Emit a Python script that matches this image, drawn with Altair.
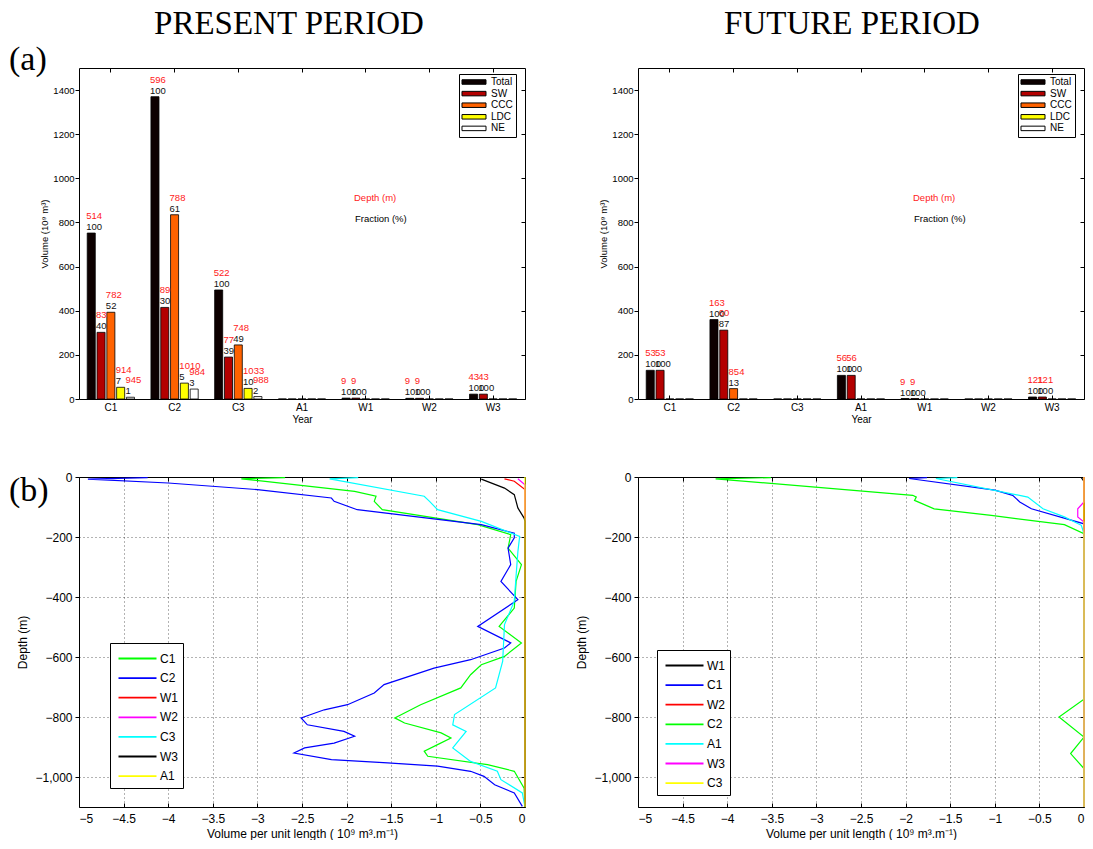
import altair as alt
import pandas as pd

FONT = "Liberation Sans"
SERIF = "Liberation Serif"

# ---------------------------------------------------------------- bar data
groups = ["C1", "C2", "C3", "A1", "W1", "W2", "W3"]
bar_series = ["Total", "SW", "CCC", "LDC", "NE"]
bar_colors = ["#0d0000", "#b30000", "#ff6200", "#ffff00", "#ffffff"]
volume_ticks = [0, 200, 400, 600, 800, 1000, 1200, 1400]

# volume (10^9 m^3) per water type, present period
present_total = [752, 1370, 494, 0, 4, 3, 22]
present_sw = [302, 415, 190, 0, 4, 3, 22]
present_ccc = [393, 835, 245, 0, 0, 0, 0]
present_ldc = [53, 72, 48, 0, 0, 0, 0]
present_ne = [8, 45, 11, 0, 0, 0, 0]
# depth (m) and fraction (%) annotations, present period
present_total_depth = ["514", "596", "522", "", "9", "9", "43"]
present_sw_depth = ["83", "89", "77", "", "9", "9", "43"]
present_ccc_depth = ["782", "788", "748", "", "", "", ""]
present_ldc_depth = ["914", "1010", "1033", "", "", "", ""]
present_ne_depth = ["945", "984", "988", "", "", "", ""]
present_total_frac = ["100", "100", "100", "", "100", "100", "100"]
present_sw_frac = ["40", "30", "39", "", "100", "100", "100"]
present_ccc_frac = ["52", "61", "49", "", "", "", ""]
present_ldc_frac = ["7", "5", "10", "", "", "", ""]
present_ne_frac = ["1", "3", "2", "", "", "", ""]

# volume (10^9 m^3) per water type, future period
future_total = [130, 360, 0, 107, 2, 0, 9]
future_sw = [130, 312, 0, 107, 2, 0, 9]
future_ccc = [0, 47, 0, 0, 0, 0, 0]
future_ldc = [0, 0, 0, 0, 0, 0, 0]
future_ne = [0, 0, 0, 0, 0, 0, 0]
future_total_depth = ["53", "163", "", "56", "9", "", "121"]
future_sw_depth = ["53", "60", "", "56", "9", "", "121"]
future_ccc_depth = ["", "854", "", "", "", "", ""]
future_ldc_depth = ["", "", "", "", "", "", ""]
future_ne_depth = ["", "", "", "", "", "", ""]
future_total_frac = ["100", "100", "", "100", "100", "", "100"]
future_sw_frac = ["100", "87", "", "100", "100", "", "100"]
future_ccc_frac = ["", "13", "", "", "", "", ""]
future_ldc_frac = ["", "", "", "", "", "", ""]
future_ne_frac = ["", "", "", "", "", "", ""]

# ---------------------------------------------------------- profile data
volume_axis_ticks = [-5, -4.5, -4, -3.5, -3, -2.5, -2, -1.5, -1, -0.5, 0]
volume_grid = [-4.5, -4, -3.5, -3, -2.5, -2, -1.5, -1, -0.5]
depth_ticks = [-1000, -800, -600, -400, -200, 0]
depth_grid = [-1000, -800, -600, -400, -200]

present_order = ["C1", "C2", "W1", "W2", "C3", "W3", "A1"]
present_colors = ["#00ff00", "#0000ff", "#ff0000", "#ff00ff", "#00ffff", "#000000", "#ffff00"]

present_c1_depth = [-2, -6, -48, -64, -81, -109, -159, -192, -237, -292, -348, -437, -498,
                    -553, -598, -626, -659, -703, -759, -803, -820, -853, -870, -892, -914,
                    -931, -959, -981, -1037, -1100]
present_c1_volume = [-2.69, -3.18, -1.91, -1.67, -1.69, -1.60, -0.53, -0.16, -0.19, -0.04,
                     -0.10, -0.12, -0.29, -0.04, -0.23, -0.49, -0.61, -0.72, -1.17, -1.46,
                     -1.35, -0.94, -0.83, -0.98, -1.13, -1.09, -0.42, -0.12, -0.01, 0]
present_c2_depth = [-2, -7, -20, -42, -70, -81, -109, -159, -187, -203, -237, -292, -348,
                    -409, -498, -553, -570, -609, -637, -692, -720, -759, -776, -803, -826,
                    -848, -864, -887, -903, -920, -942, -953, -964, -981, -998, -1026,
                    -1053, -1098]
present_c2_volume = [-4.23, -4.90, -4.00, -3.00, -2.17, -2.14, -1.88, -0.49, -0.12, -0.12,
                     -0.19, -0.16, -0.27, -0.08, -0.53, -0.16, -0.23, -0.61, -1.02, -1.58,
                     -1.69, -1.99, -2.25, -2.51, -2.44, -2.03, -1.91, -2.14, -2.47, -2.59,
                     -2.17, -1.54, -0.98, -0.61, -0.46, -0.34, -0.12, -0.03]
present_w1_depth = [-6, -14, -42, -1100]
present_w1_volume = [-0.23, -0.12, 0, 0]
present_w2_depth = [-6, -26, -1100]
present_w2_volume = [-0.08, 0, 0]
present_c3_depth = [-2, -6, -64, -81, -109, -148, -198, -250, -330, -414, -492, -614, -703,
                    -792, -826, -848, -903, -948, -981, -1009, -1053, -1100]
present_c3_volume = [-1.87, -2.19, -1.13, -1.07, -0.98, -0.49, -0.06, -0.08, -0.10, -0.12,
                     -0.23, -0.25, -0.33, -0.79, -0.81, -0.66, -0.81, -0.61, -0.31, -0.27,
                     -0.03, 0]
present_w3_depth = [-7, -37, -59, -103, -137, -148, -1100]
present_w3_volume = [-0.49, -0.23, -0.12, -0.08, -0.01, 0, 0]
present_a1_depth = [0, -1100]
present_a1_volume = [0, 0]

future_order = ["W1", "C1", "W2", "C2", "A1", "W3", "C3"]
future_colors = ["#000000", "#0000ff", "#ff0000", "#00ff00", "#00ffff", "#ff00ff", "#ffff00"]

future_w1_depth = [-2, -15, -1100]
future_w1_volume = [-0.03, 0, 0]
future_c1_depth = [-2, -5, -44, -61, -83, -106, -156, -1100]
future_c1_volume = [-1.76, -1.96, -1.00, -0.80, -0.72, -0.59, 0, 0]
future_w2_depth = [0, -1100]
future_w2_volume = [0, 0]
future_c2_depth = [-2, -6, -61, -67, -78, -106, -128, -159, -189, -741, -800, -867, -922,
                   -972, -1100]
future_c2_volume = [-3.51, -4.13, -1.92, -1.88, -1.90, -1.68, -1.04, -0.22, 0, 0, -0.28, 0,
                    -0.15, 0, 0]
future_a1_depth = [-2, -5, -67, -106, -133, -161, -189, -1100]
future_a1_volume = [-1.42, -1.66, -0.63, -0.46, -0.22, -0.03, 0, 0]
future_w3_depth = [0, -83, -106, -133, -150, -1100]
future_w3_volume = [0, 0, -0.07, -0.07, 0, 0]
future_c3_depth = [0, -1100]
future_c3_volume = [0, 0]

PANEL_W = 446
BAR_H = 331
LINE_H = 330


def bar_table(volumes, depths, fractions):
    rows = []
    for name, vol, dep, frac in zip(bar_series, volumes, depths, fractions):
        for g, v, d, f in zip(groups, vol, dep, frac):
            rows.append({"group": g, "series": name, "volume": v,
                         "depth_lbl": d, "frac_lbl": f})
    return pd.DataFrame(rows)


def profile_table(order, profiles):
    rows = []
    for name, (vol, dep) in zip(order, profiles):
        for i, (v, d) in enumerate(zip(vol, dep)):
            rows.append({"series": name, "idx": i, "volume": v, "depth": d})
    return pd.DataFrame(rows)


def note(text, x, y, size, color="black", font=FONT, align="left", baseline="alphabetic"):
    return alt.Chart(pd.DataFrame({"label": [text]})).mark_text(
        align=align, baseline=baseline, font=font, fontSize=size, color=color
    ).encode(x=alt.value(x), y=alt.value(y), text="label:N")


# one zero-height row per group: carries the mirrored (top/right) tick marks
frame_groups = pd.DataFrame({"group": groups, "volume": [0] * len(groups)})
# the two corners of the profile frame: carry grid lines and mirrored ticks
frame_corners = pd.DataFrame({"volume": [-5, 0], "depth": [-1100, 0]})


def bar_panel(df, heading, heading_x, tag=None):
    xscale = alt.Scale(domain=groups, paddingInner=0, paddingOuter=0)
    oscale = alt.Scale(domain=bar_series, paddingInner=0.18, paddingOuter=0.84)
    yscale = alt.Scale(domain=[0, 1500], nice=False)

    bars = alt.Chart(df).mark_bar(stroke="black", strokeWidth=0.8).encode(
        x=alt.X("group:N", sort=groups, scale=xscale,
                axis=alt.Axis(orient="bottom", offset=-4, tickSize=4, domain=False,
                              labelAngle=0, labelFontSize=10, labelPadding=3.5,
                              title="Year", titleFontSize=10, titlePadding=2, grid=False)),
        xOffset=alt.XOffset("series:N", sort=bar_series, scale=oscale),
        y=alt.Y("volume:Q", scale=yscale, stack=None,
                axis=alt.Axis(orient="left", values=volume_ticks, format="d", tickSize=4,
                              domain=False, labelFontSize=9.5, labelPadding=1,
                              title="Volume (10⁹ m³)", titleFontSize=9.5,
                              titlePadding=3, grid=False)),
        color=alt.Color("series:N", sort=bar_series,
                        scale=alt.Scale(domain=bar_series, range=bar_colors),
                        legend=alt.Legend(title=None, orient="none", legendX=380, legendY=6,
                                          strokeColor="black", fillColor="white", padding=3,
                                          symbolType="M-2.67,-0.5H2.67V0.5H-2.67Z",
                                          symbolSize=81, symbolOffset=7, labelOffset=12,
                                          symbolStrokeColor="black", symbolStrokeWidth=1,
                                          labelFont=FONT, labelFontSize=10, rowPadding=1.6)),
    )
    mirror = alt.Chart(frame_groups).mark_bar(opacity=0).encode(
        x=alt.X("group:N", sort=groups, scale=xscale,
                axis=alt.Axis(orient="top", offset=-4, tickSize=4, labels=False,
                              domain=False, title=None, grid=False)),
        y=alt.Y("volume:Q", scale=yscale, stack=None,
                axis=alt.Axis(orient="right", offset=-4, tickSize=4, labels=False,
                              values=volume_ticks, domain=False, title=None, grid=False)),
    )
    enc = dict(
        x=alt.X("group:N", sort=groups, scale=xscale, axis=None),
        xOffset=alt.XOffset("series:N", sort=bar_series, scale=oscale),
        y=alt.Y("volume:Q", scale=yscale, axis=None),
    )
    depth_lbl = alt.Chart(df).transform_filter("datum.depth_lbl != ''").mark_text(
        align="left", baseline="alphabetic", dx=-5, dy=-14, color="#ff1a1a",
        font=FONT, fontSize=9.5).encode(text="depth_lbl:N", **enc)
    frac_lbl = alt.Chart(df).transform_filter("datum.frac_lbl != ''").mark_text(
        align="left", baseline="alphabetic", dx=-5, dy=-3, color="#111111",
        font=FONT, fontSize=9.5).encode(text="frac_lbl:N", **enc)

    layers = [bars, mirror, depth_lbl, frac_lbl,
              note("Depth (m)", 275, 133, 9.5, color="#ff1a1a"),
              note("Fraction (%)", 276, 154, 9.5),
              note(heading, heading_x, -34, 33, font=SERIF, align="center")]
    if tag:
        layers.append(note(tag, -70, 2, 34, font=SERIF))
    return alt.layer(*layers).resolve_axis(x="independent", y="independent").properties(
        width=PANEL_W, height=BAR_H)


def line_panel(df, order, colors, legend_x, legend_y, tag=None):
    xscale = alt.Scale(domain=[-5, 0], nice=False, zero=False)
    yscale = alt.Scale(domain=[-1100, 0], nice=False, zero=False)

    grid = alt.Chart(frame_corners).mark_point(opacity=0).encode(
        x=alt.X("volume:Q", scale=xscale,
                axis=alt.Axis(orient="bottom", values=volume_grid, grid=True, ticks=False,
                              labels=False, domain=False, title=None, gridDash=[1, 3],
                              gridColor="#000000", gridOpacity=0.6, gridWidth=1)),
        y=alt.Y("depth:Q", scale=yscale,
                axis=alt.Axis(orient="left", values=depth_grid, grid=True, ticks=False,
                              labels=False, domain=False, title=None, gridDash=[1, 3],
                              gridColor="#000000", gridOpacity=0.6, gridWidth=1)),
    )
    lines = alt.Chart(df).mark_line(strokeWidth=1.2).encode(
        x=alt.X("volume:Q", scale=xscale,
                axis=alt.Axis(orient="bottom", offset=-4, tickSize=4, domain=False,
                              values=volume_axis_ticks, format="~g", grid=False,
                              labelFontSize=12, labelPadding=6,
                              title="Volume per unit length ( 10⁹ m³.m⁻¹)",
                              titleFontSize=12, titlePadding=4)),
        y=alt.Y("depth:Q", scale=yscale,
                axis=alt.Axis(orient="left", values=depth_ticks, tickSize=4, domain=False,
                              grid=False, labelFontSize=12, labelPadding=3,
                              title="Depth (m)", titleFontSize=12, titlePadding=5)),
        color=alt.Color("series:N", sort=order,
                        scale=alt.Scale(domain=order, range=colors),
                        legend=alt.Legend(title=None, orient="none", legendX=legend_x,
                                          legendY=legend_y, strokeColor="black",
                                          fillColor="white", padding=5,
                                          symbolType="M-2,0H2", symbolSize=361,
                                          symbolStrokeWidth=1.8, symbolOffset=12,
                                          labelOffset=12, labelFont=FONT,
                                          labelFontSize=12, rowPadding=2.6)),
        order=alt.Order("idx:Q"),
    )
    mirror = alt.Chart(frame_corners).mark_point(opacity=0).encode(
        x=alt.X("volume:Q", scale=xscale,
                axis=alt.Axis(orient="top", offset=-4, tickSize=4, labels=False,
                              values=volume_axis_ticks, domain=False, title=None,
                              grid=False)),
        y=alt.Y("depth:Q", scale=yscale,
                axis=alt.Axis(orient="right", offset=-4, tickSize=4, labels=False,
                              values=depth_ticks, domain=False, title=None, grid=False)),
    )
    layers = [grid, lines, mirror]
    if tag:
        layers.append(note(tag, -70, 24, 34, font=SERIF))
    return alt.layer(*layers).resolve_axis(x="independent", y="independent").properties(
        width=PANEL_W, height=LINE_H)


present_bars = bar_table(
    [present_total, present_sw, present_ccc, present_ldc, present_ne],
    [present_total_depth, present_sw_depth, present_ccc_depth, present_ldc_depth,
     present_ne_depth],
    [present_total_frac, present_sw_frac, present_ccc_frac, present_ldc_frac,
     present_ne_frac])
future_bars = bar_table(
    [future_total, future_sw, future_ccc, future_ldc, future_ne],
    [future_total_depth, future_sw_depth, future_ccc_depth, future_ldc_depth,
     future_ne_depth],
    [future_total_frac, future_sw_frac, future_ccc_frac, future_ldc_frac,
     future_ne_frac])

present_profiles = profile_table(present_order, [
    (present_c1_volume, present_c1_depth),
    (present_c2_volume, present_c2_depth),
    (present_w1_volume, present_w1_depth),
    (present_w2_volume, present_w2_depth),
    (present_c3_volume, present_c3_depth),
    (present_w3_volume, present_w3_depth),
    (present_a1_volume, present_a1_depth),
])
future_profiles = profile_table(future_order, [
    (future_w1_volume, future_w1_depth),
    (future_c1_volume, future_c1_depth),
    (future_w2_volume, future_w2_depth),
    (future_c2_volume, future_c2_depth),
    (future_a1_volume, future_a1_depth),
    (future_w3_volume, future_w3_depth),
    (future_c3_volume, future_c3_depth),
])

chart = alt.concat(
    bar_panel(present_bars, "PRESENT PERIOD", 210, tag="(a)"),
    bar_panel(future_bars, "FUTURE PERIOD", 214),
    line_panel(present_profiles, present_order, present_colors, 31, 166, tag="(b)"),
    line_panel(future_profiles, future_order, future_colors, 19, 173),
    columns=2,
    spacing={"row": 78, "column": 113},
    bounds="flush",
).resolve_scale(
    color="independent", x="independent", y="independent"
).resolve_legend(
    color="independent"
).properties(
    padding={"left": 8, "top": 7, "right": 0, "bottom": 0},
    background="white",
).configure_view(
    stroke="black", strokeWidth=1
).configure_axis(
    labelFont=FONT, titleFont=FONT, labelColor="black", titleColor="black",
    tickColor="black", titleFontWeight="normal", tickWidth=1
)

chart.save("out.html", embed_options={"renderer": "svg", "actions": False})
